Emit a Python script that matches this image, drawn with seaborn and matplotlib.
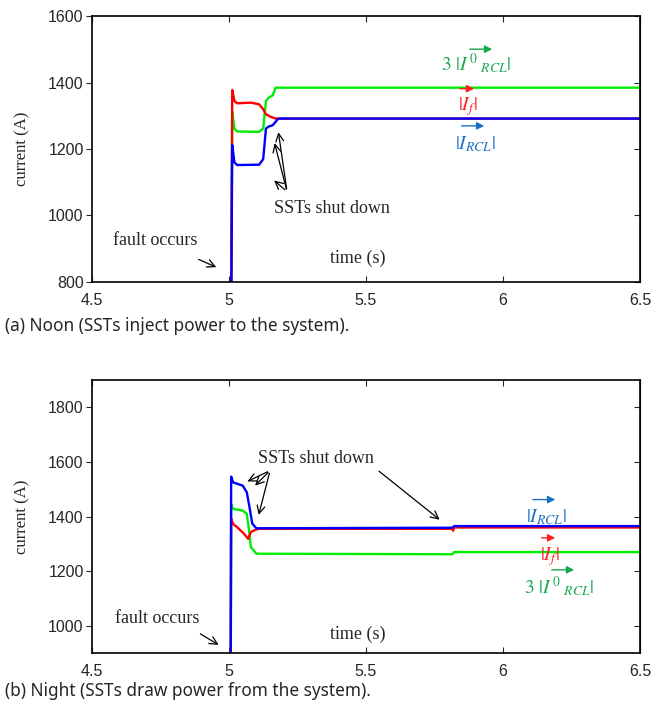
import numpy as np
import pandas as pd
import matplotlib
matplotlib.use("Agg")
import matplotlib.pyplot as plt
import seaborn as sns

# ---------------- data ----------------
# (a) Noon
noon_t_red = [4.5, 5.005, 5.012, 5.02, 5.03, 5.08, 5.11, 5.125, 5.135, 5.15, 5.17, 6.5]
noon_red = [300, 300, 1378, 1345, 1338, 1340, 1335, 1320, 1305, 1298, 1292, 1292]
noon_t_green = [4.5, 5.005, 5.012, 5.02, 5.03, 5.11, 5.125, 5.135, 5.145, 5.16, 5.17, 6.5]
noon_green = [300, 300, 1313, 1262, 1253, 1252, 1262, 1345, 1355, 1362, 1385, 1385]
noon_t_blue = [4.5, 5.005, 5.012, 5.02, 5.03, 5.11, 5.125, 5.135, 5.145, 5.16, 5.18, 6.5]
noon_blue = [300, 300, 1212, 1160, 1152, 1153, 1170, 1262, 1268, 1272, 1292, 1292]

# (b) Night
night_t_red = [4.5, 5.005, 5.008, 5.015, 5.03, 5.055, 5.07, 5.08, 5.095, 5.11, 5.815, 5.818, 5.822, 6.5]
night_red = [300, 300, 1392, 1373, 1361, 1337, 1318, 1343, 1351, 1355, 1355, 1348, 1360, 1360]
night_t_green = [4.5, 5.005, 5.008, 5.015, 5.05, 5.065, 5.072, 5.08, 5.10, 5.815, 5.822, 6.5]
night_green = [300, 300, 1446, 1428, 1422, 1410, 1361, 1288, 1264, 1262, 1270, 1270]
night_t_blue = [4.5, 5.005, 5.008, 5.015, 5.05, 5.065, 5.075, 5.085, 5.10, 5.815, 5.822, 6.5]
night_blue = [300, 300, 1546, 1525, 1513, 1489, 1434, 1374, 1357, 1359, 1365, 1365]

series_names = ["3|I0 RCL|", "|If|", "|I RCL|"]
colors = {"3|I0 RCL|": "#00ee00", "|If|": "#ff0000", "|I RCL|": "#0000ff"}

x_ticks = [4.5, 5, 5.5, 6, 6.5]
x_ticklabels = ["4.5", "5", "5.5", "6", "6.5"]
noon_yticks = [800, 1000, 1200, 1400, 1600]
night_yticks = [1000, 1200, 1400, 1600, 1800]


def frame(tg, g, tr, r, tb, b):
    parts = []
    for name, t, v in zip(series_names, [tg, tr, tb], [g, r, b]):
        parts.append(pd.DataFrame({"t": t, "I": v, "series": name}))
    return pd.concat(parts, ignore_index=True)


df_noon = frame(noon_t_green, noon_green, noon_t_red, noon_red, noon_t_blue, noon_blue)
df_night = frame(night_t_green, night_green, night_t_red, night_red, night_t_blue, night_blue)

# ---------------- style ----------------
sns.set_style("ticks")
plt.rcParams["font.family"] = ["Liberation Sans", "DejaVu Sans"]
plt.rcParams["mathtext.fontset"] = "stix"

SERIF = ["Liberation Serif", "DejaVu Serif"]
GREEN_T = "#14a84e"
RED_T = "#ff2020"
BLUE_T = "#1a6fc4"

fig = plt.figure(figsize=(6.57, 7.10), dpi=100)
ax1 = fig.add_axes([0.140, 0.603, 0.834, 0.374])
ax2 = fig.add_axes([0.140, 0.080, 0.834, 0.385])


def base(ax, df, ylim, yticks):
    sns.lineplot(data=df, x="t", y="I", hue="series", palette=colors,
                 hue_order=series_names, estimator=None, sort=False,
                 linewidth=1.7, legend=False, ax=ax)
    ax.set_xlim(4.5, 6.5)
    ax.set_ylim(*ylim)
    ax.set_xticks(x_ticks)
    ax.set_xticklabels(x_ticklabels)
    ax.set_yticks(yticks)
    ax.set_xlabel("")
    ax.set_ylabel("current (A)", fontfamily=SERIF, fontsize=12)
    ax.yaxis.set_label_coords(-0.112, 0.5)
    ax.tick_params(axis="x", direction="in", top=True, labelsize=11.5, length=4, pad=8)
    ax.tick_params(axis="y", direction="out", labelsize=11.5, length=4, pad=2)
    sec = ax.secondary_yaxis("right")
    sec.set_yticks(yticks)
    sec.tick_params(direction="in", labelright=False, length=4)
    for s in ax.spines.values():
        s.set_color("black")
        s.set_linewidth(1.2)
        s.set_visible(True)


base(ax1, df_noon, (800, 1600), noon_yticks)
base(ax2, df_night, (900, 1900), night_yticks)

arrow_black = dict(arrowstyle="->", color="black", lw=0.9, mutation_scale=14)


def vec_label(ax, text, color, tx, ty, ax0, ax1_, ay):
    ax.text(tx, ty, text, color=color, fontsize=14, ha="center", va="center")
    ax.annotate("", xy=(ax1_, ay), xytext=(ax0, ay),
                arrowprops=dict(arrowstyle="-|>", color=color, lw=1.0, mutation_scale=11))


# ---- panel (a) annotations ----
vec_label(ax1, r"$3\ |I^{\,0}{}_{\ RCL}|$", GREEN_T, 5.901, 1458, 5.869, 5.971, 1501)
vec_label(ax1, r"$|I_f|$", RED_T, 5.872, 1328, 5.832, 5.905, 1382)
vec_label(ax1, r"$|I_{RCL}|$", BLUE_T, 5.898, 1215, 5.839, 5.942, 1270)

ax1.text(4.730, 925, "fault occurs", fontfamily=SERIF, fontsize=13, ha="center", va="center")
ax1.annotate("", xy=(4.963, 841), xytext=(4.880, 871), arrowprops=arrow_black)
ax1.text(5.376, 1021, "SSTs shut down", fontfamily=SERIF, fontsize=13, ha="center", va="center")
for tip in [(5.179, 1259), (5.164, 1226), (5.157, 1111)]:
    ax1.annotate("", xy=tip, xytext=(5.212, 1072), arrowprops=arrow_black)
ax1.text(5.471, 871, "time (s)", fontfamily=SERIF, fontsize=13, ha="center", va="center")

# ---- panel (b) annotations ----
vec_label(ax2, r"$|I_{RCL}|$", BLUE_T, 6.157, 1398, 6.099, 6.201, 1462)
vec_label(ax2, r"$|I_f|$", RED_T, 6.172, 1255, 6.131, 6.201, 1322)
vec_label(ax2, r"$3\ |I^{\,0}{}_{\ RCL}|$", GREEN_T, 6.204, 1142, 6.168, 6.270, 1205)

ax2.text(4.737, 1027, "fault occurs", fontfamily=SERIF, fontsize=13, ha="center", va="center")
ax2.annotate("", xy=(4.971, 925), xytext=(4.887, 976), arrowprops=arrow_black)
ax2.text(5.318, 1612, "SSTs shut down", fontfamily=SERIF, fontsize=13, ha="center", va="center")
for tip in [(5.058, 1524), (5.088, 1506), (5.106, 1396)]:
    ax2.annotate("", xy=tip, xytext=(5.150, 1568), arrowprops=arrow_black)
ax2.annotate("", xy=(5.777, 1382), xytext=(5.540, 1572), arrowprops=arrow_black)
ax2.text(5.471, 969, "time (s)", fontfamily=SERIF, fontsize=13, ha="center", va="center")

# ---- captions ----
fig.text(0.008, 1 - 326 / 710, "(a) Noon (SSTs inject power to the system).",
         fontfamily=["Noto Sans", "DejaVu Sans"], fontsize=12.4, ha="left", va="center")
fig.text(0.008, 1 - 691 / 710, "(b) Night (SSTs draw power from the system).",
         fontfamily=["Noto Sans", "DejaVu Sans"], fontsize=12.4, ha="left", va="center")

fig.savefig("out.png", dpi=100)
